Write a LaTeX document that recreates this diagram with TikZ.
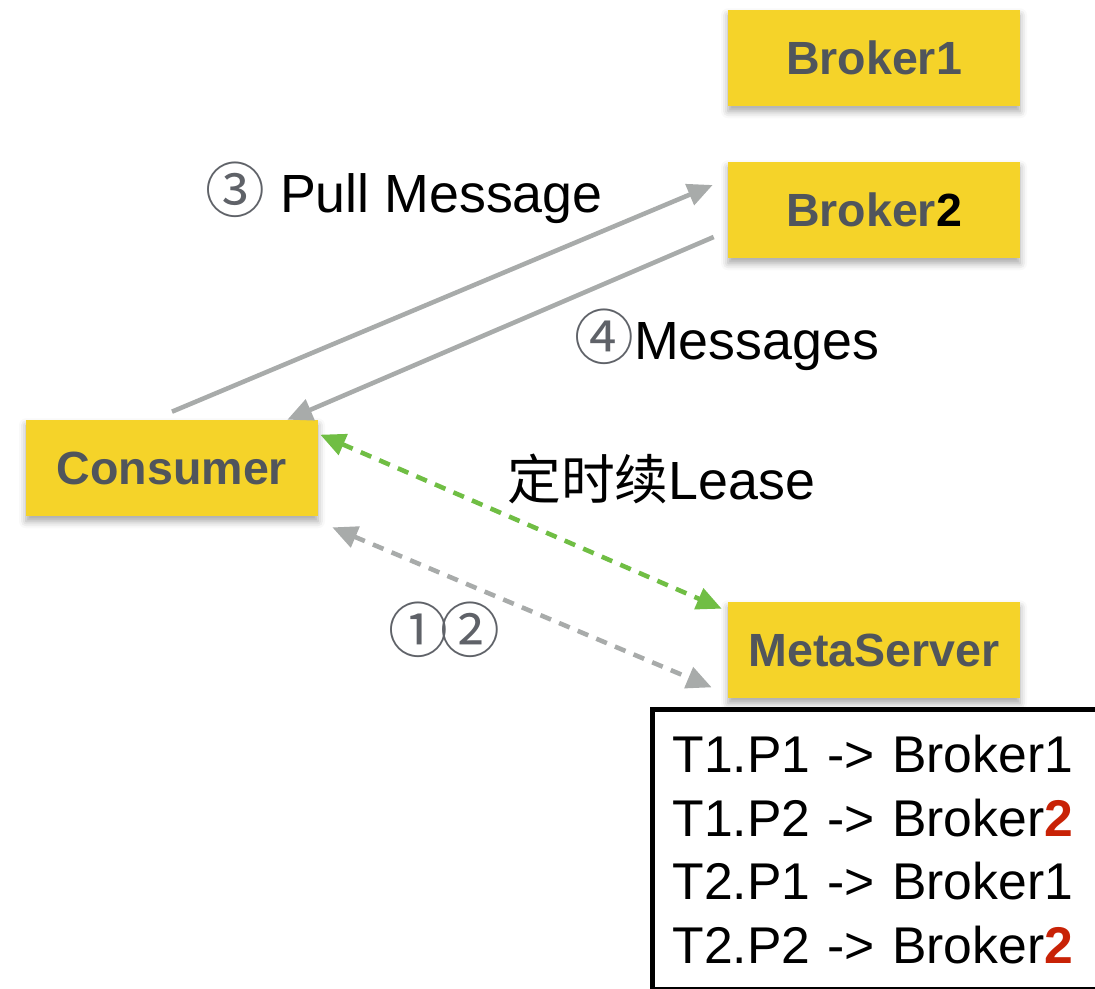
\documentclass[tikz,border=0pt]{standalone}
\usepackage{fontspec}
\setmainfont{Liberation Sans}
\newfontfamily\cjkfont{Noto Sans CJK SC}
\usetikzlibrary{arrows.meta,shadows.blur}

\definecolor{boxyellow}{RGB}{245,211,41}
\definecolor{boxtext}{RGB}{80,85,92}
\definecolor{linkgray}{RGB}{168,171,170}
\definecolor{leasegreen}{RGB}{112,190,68}
\definecolor{hotred}{RGB}{200,34,6}
\definecolor{stepgray}{RGB}{95,98,104}

% circled step numbers and highlighted broker ids
\newcommand{\stepno}[1]{{\cjkfont\fontsize{34}{36}\selectfont\color{stepgray}#1}}
\newcommand{\hot}[1]{\textcolor{hotred}{\textbf{#1}}}

\tikzset{
  >={Triangle[length=0.5cm,width=0.44cm]},
  server/.style={fill=boxyellow, text=boxtext, inner sep=0pt,
    minimum width=5.84cm, minimum height=1.92cm,
    font=\fontsize{26.5}{32}\selectfont\bfseries,
    blur shadow={shadow xshift=0pt, shadow yshift=-3pt,
      shadow blur radius=4pt, shadow opacity=35}},
  label/.style={inner sep=0pt, anchor=base west,
    font=\fontsize{30.6}{36}\selectfont},
  routes/.style={draw=black, line width=3pt, align=left, text width=9cm,
    inner xsep=0.4cm, inner ysep=0.5cm, anchor=north west,
    font=\fontsize{29.4}{36.4}\selectfont},
  flow/.style={draw=linkgray, line width=2.6pt, ->},
  lease/.style={draw=leasegreen, line width=2.6pt, <->,
    dash pattern=on 6.5pt off 5pt},
  query/.style={draw=linkgray, line width=2.6pt, <->,
    dash pattern=on 6.5pt off 5pt},
}

\begin{document}
\begin{tikzpicture}[x=0.02cm, y=0.02cm]
  \useasboundingbox (0,0) rectangle (1095,-988);

  %% servers
  \node[server] (broker1) at (874,-58)  {Broker1};
  \node[server] (broker2) at (874,-210) {Broker\textcolor{black}{2}};
  \node[server] (consumer) at (172,-468) {Consumer};
  \node[server] (meta) at (874,-650) {MetaServer};

  %% partition -> broker table
  \node[routes] (routes) at (650,-707) {%
    T1.P1 -> Broker1\\
    T1.P2 -> Broker\hot{2}\\
    T2.P1 -> Broker1\\
    T2.P2 -> Broker\hot{2}};

  %% pull / messages
  \draw[flow] ([shift={(0,8)}]consumer.north)
    -- ([shift={(-15,25)}]broker2.west);
  \draw[flow] ([shift={(-14,-27)}]broker2.west)
    -- ([shift={(-31,0)}]consumer.north east);

  %% lease renewal and route lookup
  \draw[lease] ([shift={(2,-15)}]consumer.north east)
    -- ([shift={(-6,-7)}]meta.north west);
  \draw[query] ([shift={(14,-11)}]consumer.south east)
    -- ([shift={(-16,11)}]meta.south west);

  %% labels
  \node[label] (lblpull) at (205,-212) {\stepno{③} Pull Message};
  \node[label] (lblmsgs) at (574,-359) {\stepno{④}Messages};
  \node[label] (lbllease) at (507,-499) {{\cjkfont 定时续}Lease};
  \node[label] (lblquery) at (388,-652) {\stepno{①\kern-0.12em②}};
\end{tikzpicture}
\end{document}
